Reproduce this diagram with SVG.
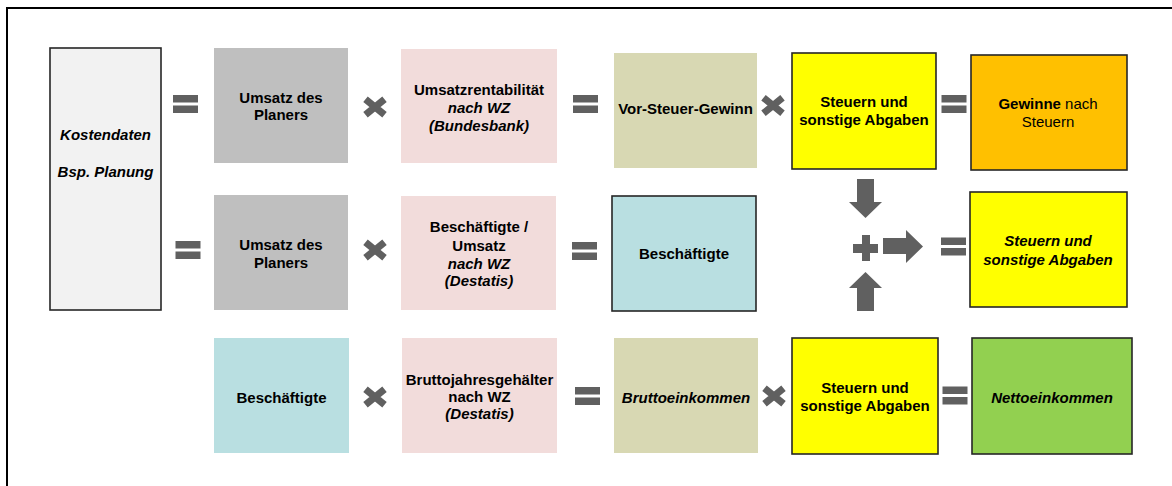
<svg xmlns="http://www.w3.org/2000/svg" width="1172" height="486" viewBox="0 0 1172 486">
<style>
text{font-family:"Liberation Sans",Arial,sans-serif;font-size:15px;fill:#000;text-anchor:middle}
.b{font-weight:bold}
.i{font-style:italic}
.bi{font-weight:bold;font-style:italic}
.n{font-weight:normal;font-style:normal}
.op{fill:#606060}
.ol{stroke:#262626;stroke-width:1.6}
</style>
<defs>
<g id="eq"><rect x="0" y="0" width="25" height="7.5" class="op"/><rect x="0" y="10.5" width="25" height="7.5" class="op"/></g>
<path id="mul" d="M-9.5,-7.8 L9.5,7.8 M-9.5,7.8 L9.5,-7.8" stroke="#606060" stroke-width="7" fill="none"/>
</defs>
<rect width="1172" height="486" fill="#fff"/>
<path d="M7,486 V8 H1172" fill="none" stroke="#000" stroke-width="2"/>

<g id="kostendaten"><rect x="50" y="48" width="111" height="262" fill="#f2f2f2" class="ol"/><text x="105.5" y="140" class="bi">Kostendaten</text><text x="105.5" y="177" class="bi">Bsp. Planung</text></g>

<g id="umsatz1"><rect x="214" y="48" width="134" height="115" fill="#bfbfbf"/><text x="281" y="103" class="b">Umsatz des</text><text x="281" y="120" class="b">Planers</text></g>
<g id="rentabilitaet"><rect x="401" y="49" width="156" height="114" fill="#f2dcdb"/><text x="479" y="95" class="b">Umsatzrentabilität</text><text x="479" y="113" class="bi">nach WZ</text><text x="479" y="131" class="bi">(Bundesbank)</text></g>
<g id="vorsteuer"><rect x="614" y="53" width="143" height="115" fill="#d8d8b3"/><text x="685.5" y="114" class="b">Vor-Steuer-Gewinn</text></g>
<g id="steuern1"><rect x="792" y="53" width="144" height="116" fill="#ffff00" class="ol"/><text x="864" y="107" class="b">Steuern und</text><text x="864" y="125" class="b">sonstige Abgaben</text></g>
<g id="gewinne"><rect x="971" y="55" width="156" height="115" fill="#ffc000" class="ol"/><text x="1048" y="109"><tspan class="b">Gewinne</tspan> nach</text><text x="1048" y="127">Steuern</text></g>

<g id="umsatz2"><rect x="214" y="195" width="134" height="115" fill="#bfbfbf"/><text x="281" y="250" class="b">Umsatz des</text><text x="281" y="268" class="b">Planers</text></g>
<g id="besch_umsatz"><rect x="401" y="196" width="155" height="114" fill="#f2dcdb"/><text x="479" y="232" class="b">Beschäftigte /</text><text x="479" y="251" class="b">Umsatz</text><text x="479" y="268.5" class="bi">nach WZ</text><text x="479" y="286" class="bi">(Destatis)</text></g>
<g id="beschaeftigte1"><rect x="612" y="196" width="144" height="115" fill="#b9dfe1" class="ol"/><text x="684" y="258.5" class="b">Beschäftigte</text></g>
<g id="steuern_sum"><rect x="970" y="192" width="157" height="115" fill="#ffff00" class="ol"/><text x="1048" y="246" class="bi">Steuern und</text><text x="1048" y="265" class="bi">sonstige Abgaben</text></g>

<g id="beschaeftigte2"><rect x="214" y="338" width="135" height="115" fill="#b9dfe1"/><text x="281.5" y="402.5" class="b">Beschäftigte</text></g>
<g id="gehaelter"><rect x="402" y="338" width="155" height="115" fill="#f2dcdb"/><text x="479.5" y="384.5" class="b">Bruttojahresgehälter</text><text x="479.5" y="402" class="b">nach WZ</text><text x="479.5" y="419" class="bi">(Destatis)</text></g>
<g id="brutto"><rect x="614" y="338" width="144" height="115" fill="#d8d8b3"/><text x="686" y="402.5" class="bi">Bruttoeinkommen</text></g>
<g id="steuern3"><rect x="792" y="338" width="146" height="116" fill="#ffff00" class="ol"/><text x="865" y="393" class="b">Steuern und</text><text x="865" y="411" class="b">sonstige Abgaben</text></g>
<g id="netto"><rect x="972" y="338" width="160" height="116" fill="#92d050" class="ol"/><text x="1052" y="402.5" class="bi">Nettoeinkommen</text></g>

<g id="operators">
<use href="#eq" x="173" y="95"/><use href="#eq" x="573" y="95"/><use href="#eq" x="941.5" y="95"/>
<use href="#eq" x="175.5" y="241"/><use href="#eq" x="572" y="242"/><use href="#eq" x="941" y="237.5"/>
<use href="#eq" x="575" y="387"/><use href="#eq" x="942.5" y="386.5"/>
<use href="#mul" x="375" y="107"/><use href="#mul" x="773" y="105.5"/>
<use href="#mul" x="375" y="250"/>
<use href="#mul" x="375" y="397"/><use href="#mul" x="774" y="396"/>
</g>

<g id="connectors" class="op">
<polygon points="857,179 874,179 874,202 882,202 865.5,218 849,202 857,202"/>
<polygon points="857,311 874,311 874,288 882,288 865.5,272 849,288 857,288"/>
<polygon points="853,244 862,244 862,235 870,235 870,244 878,244 878,253 870,253 870,261 862,261 862,253 853,253"/>
<polygon points="883,238 906,238 906,230 923,246.5 906,263 906,254 883,254"/>
</g>
</svg>
